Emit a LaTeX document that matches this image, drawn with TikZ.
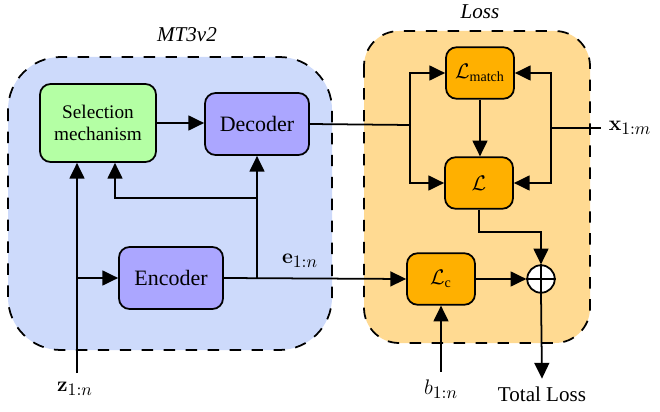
\documentclass[12pt,tikz,border=0pt]{standalone}
\usepackage[no-math]{fontspec}
\setmainfont{Liberation Serif}
\usepackage{amsmath}
\usetikzlibrary{arrows.meta}
\DeclareMathSizes{13}{13}{10}{8}
\definecolor{mtblue}{RGB}{205,218,251}
\definecolor{lossbg}{RGB}{255,218,146}
\definecolor{selgreen}{RGB}{180,255,164}
\definecolor{netpurple}{RGB}{171,166,255}
\definecolor{lossbox}{RGB}{255,176,0}
\begin{document}
\begin{tikzpicture}[x=0.02cm,y=-0.02cm,line width=1pt,
  group/.style={draw,dash pattern=on 6.5pt off 6pt},
  block/.style={draw,rounded corners=6pt,align=center},
  lbox/.style={block,fill=lossbox,minimum width=1.36cm,minimum height=1.03cm},
  sig/.style={font=\fontsize{13}{15}\selectfont},
  arr/.style={-{Triangle[length=9pt,width=8.5pt]}}]
\useasboundingbox (0,0) rectangle (660,412);
\draw[group,fill=mtblue,rounded corners=30pt] (8,57) rectangle (332,350);
\draw[group,fill=lossbg,rounded corners=20pt] (364,31) rectangle (590,343);
\node (MT) at (187,35) {\textit{MT3v2}};
\node (LossT) at (480,12) {\textit{Loss}};
\node[block,fill=selgreen,minimum width=2.32cm,minimum height=1.56cm,font=\small\linespread{0.9}\selectfont] (sel) at (98,123) {Selection\\mechanism};
\node[block,fill=netpurple,minimum width=2.08cm,minimum height=1.24cm,font=\fontsize{12.5}{15}\selectfont] (dec) at (257,124) {Decoder};
\node[block,fill=netpurple,minimum width=2.08cm,minimum height=1.24cm,font=\fontsize{12.5}{15}\selectfont] (enc) at (171,278) {Encoder};
\node[lbox] (lm) at (480,73) {$\mathcal{L}_{\text{match}}$};
\node[lbox] (l) at (479,183) {$\mathcal{L}$};
\node[lbox] (lc) at (441,279) {$\mathcal{L}_{\text{c}}$};
\node[draw,circle,fill=white,minimum size=0.55cm,inner sep=0pt] (plus) at (541,279) {};
\draw (plus.north) -- (plus.south) (plus.west) -- (plus.east);
\node[sig] (z) at (75,389) {$\mathbf{z}_{1:n}$};
\node[sig] (e) at (300,261) {$\mathbf{e}_{1:n}$};
\node[sig] (b) at (441,389) {$b_{1:n}$};
\node[sig] (x) at (630,128) {$\mathbf{x}_{1:m}$};
\node (tl) at (542,394) {Total Loss};
\coordinate (zb) at (77,278);
\coordinate (sb) at (115,198);
\coordinate (db) at (410,125);
\coordinate (xb) at (551,128);
\draw[arr] (sel.east) -- (sel.east -| dec.west);
\draw[arr] (77,373) -- (77,0 |- sel.south);
\draw[arr] (zb) -- (enc.west);
\draw[arr] (enc.east) -- (lc.west);
\draw[arr] (dec.south |- enc.east) -- (dec.south);
\draw[arr] (dec.south |- sb) -- (sb) -- (sb |- sel.south);
\draw (dec.east) -- (db);
\draw[arr] (db) |- (lm.west);
\draw[arr] (db) |- (l.west);
\draw (x.west) -- (xb);
\draw[arr] (xb) |- (lm.east);
\draw[arr] (xb) |- (l.east);
\draw[arr] (lm.south) -- (lm.south |- l.north);
\draw[arr] (l.south) -- ++(0,22) -| (plus.north);
\draw[arr] (lc.east) -- (plus.west);
\draw[arr] (plus.south) -- (tl.north);
\draw[arr] (b.north) -- (lc.south);
\end{tikzpicture}
\end{document}
